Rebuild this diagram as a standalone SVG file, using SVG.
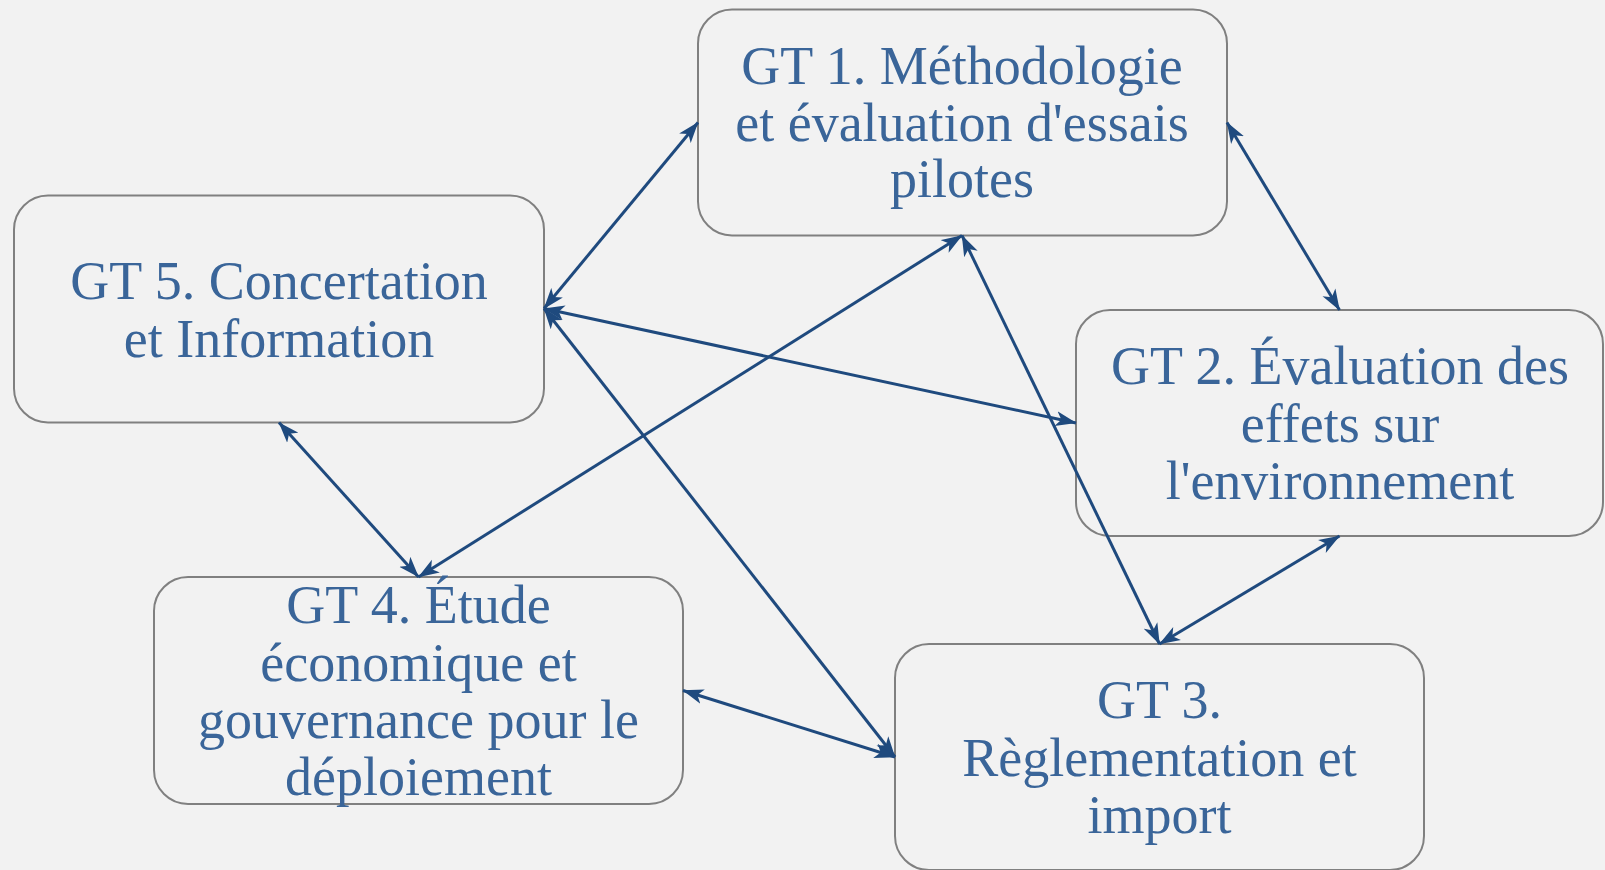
<svg xmlns="http://www.w3.org/2000/svg" width="1605" height="870" viewBox="0 0 1605 870">
<defs>
<style>
.box{fill:#f2f2f2;stroke:#808080;stroke-width:2}
.lbl{font-family:"Liberation Serif","Times New Roman",serif;font-size:54px;fill:#3a6599;text-anchor:middle}
.edge{stroke:#1f4a7e;stroke-width:3;fill:none;marker-start:url(#arr);marker-end:url(#arr)}
</style>
<marker id="arr" viewBox="0 0 21 16" refX="20.5" refY="8" markerWidth="21" markerHeight="16" markerUnits="userSpaceOnUse" orient="auto-start-reverse">
<path d="M21,8 L0,0.5 L5.5,8 L0,15.5 Z" fill="#1f4a7e"/>
</marker>
</defs>
<rect width="1605" height="870" fill="#f2f2f2"/>
<g id="gt1">
<rect class="box" x="698" y="9.5" width="529" height="226" rx="34" ry="34"/>
<text class="lbl" x="962" y="84">GT 1. Méthodologie</text>
<text class="lbl" x="962" y="141">et évaluation d'essais</text>
<text class="lbl" x="962" y="197">pilotes</text>
</g>
<g id="gt5">
<rect class="box" x="14" y="195.5" width="530" height="227" rx="34" ry="34"/>
<text class="lbl" x="279" y="299">GT 5. Concertation</text>
<text class="lbl" x="279" y="357">et Information</text>
</g>
<g id="gt2">
<rect class="box" x="1076" y="310" width="527" height="226" rx="34" ry="34"/>
<text class="lbl" x="1340" y="384">GT 2. Évaluation des</text>
<text class="lbl" x="1340" y="442">effets sur</text>
<text class="lbl" x="1340" y="499">l'environnement</text>
</g>
<g id="gt4">
<rect class="box" x="154" y="577" width="529" height="227" rx="34" ry="34"/>
<text class="lbl" x="418.5" y="623">GT 4. Étude</text>
<text class="lbl" x="418.5" y="681">économique et</text>
<text class="lbl" x="418.5" y="738">gouvernance pour le</text>
<text class="lbl" x="418.5" y="795">déploiement</text>
</g>
<g id="gt3">
<rect class="box" x="895" y="644" width="529" height="226" rx="34" ry="34"/>
<text class="lbl" x="1159.5" y="718">GT 3.</text>
<text class="lbl" x="1159.5" y="776">Règlementation et</text>
<text class="lbl" x="1159.5" y="833">import</text>
</g>
<g id="connectors">
<line class="edge" x1="544" y1="308.5" x2="698" y2="122.5"/>
<line class="edge" x1="1227" y1="122.5" x2="1339.5" y2="310"/>
<line class="edge" x1="544" y1="308.5" x2="1076" y2="423"/>
<line class="edge" x1="962" y1="235.5" x2="418.5" y2="577"/>
<line class="edge" x1="962" y1="235.5" x2="1159.5" y2="644"/>
<line class="edge" x1="544" y1="308.5" x2="895" y2="757"/>
<line class="edge" x1="279" y1="422.5" x2="418.5" y2="577"/>
<line class="edge" x1="1339.5" y1="536" x2="1159.5" y2="644"/>
<line class="edge" x1="683" y1="690.5" x2="895" y2="757"/>
</g>
</svg>
